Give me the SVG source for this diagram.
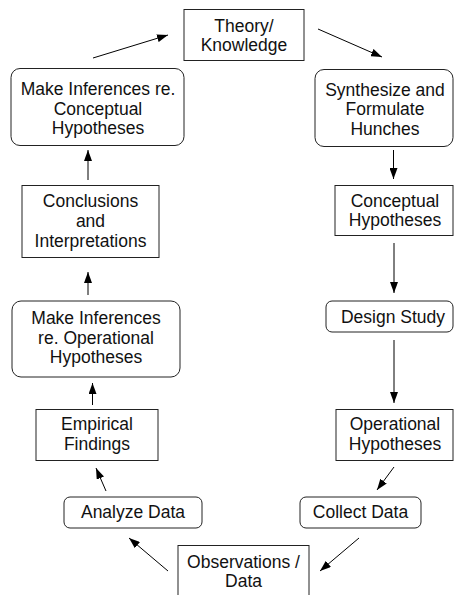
<svg xmlns="http://www.w3.org/2000/svg" width="454" height="595" viewBox="0 0 454 595">
<defs>
<style>
.box{fill:#fff;stroke:#222;stroke-width:1}
.t{font-family:"Liberation Sans",Arial,sans-serif;font-size:17.5px;fill:#111;text-anchor:middle}
.c{stroke:#000;stroke-width:1;fill:none;marker-end:url(#ah)}
</style>
<marker id="ah" markerUnits="userSpaceOnUse" markerWidth="11" markerHeight="8" refX="11" refY="4" orient="auto">
<path d="M0,0 L11,4 L0,8 z" fill="#000"/>
</marker>
</defs>
<rect width="454" height="595" fill="#fff"/>
<g id="connectors">
<line class="c" x1="93" y1="58" x2="168" y2="35"/>
<line class="c" x1="318" y1="29" x2="382" y2="57"/>
<line class="c" x1="88" y1="180" x2="88" y2="150"/>
<line class="c" x1="393.5" y1="150" x2="393.5" y2="179"/>
<line class="c" x1="88" y1="295" x2="88" y2="272"/>
<line class="c" x1="394" y1="243" x2="394" y2="293"/>
<line class="c" x1="394" y1="340" x2="394" y2="403"/>
<line class="c" x1="92.5" y1="405" x2="92.5" y2="383"/>
<line class="c" x1="106" y1="491" x2="96" y2="468"/>
<line class="c" x1="394" y1="467" x2="377" y2="490"/>
<line class="c" x1="168" y1="571" x2="129" y2="538"/>
<line class="c" x1="359" y1="538" x2="320" y2="571"/>
</g>
<g id="theory">
<rect class="box" x="184" y="9.5" width="120" height="51"/>
<text class="t" x="244" y="31.5">Theory/</text>
<text class="t" x="244" y="51">Knowledge</text>
</g>
<g id="inferConceptual">
<rect class="box" x="11" y="68.5" width="173" height="77" rx="9"/>
<text class="t" x="98" y="95">Make Inferences re.</text>
<text class="t" x="98" y="114.5">Conceptual</text>
<text class="t" x="98" y="134">Hypotheses</text>
</g>
<g id="synthesize">
<rect class="box" x="315" y="69.5" width="138" height="77" rx="9"/>
<text class="t" x="385" y="95.5">Synthesize and</text>
<text class="t" x="385" y="115">Formulate</text>
<text class="t" x="385" y="134.5">Hunches</text>
</g>
<g id="conclusions">
<rect class="box" x="22" y="185.5" width="137" height="72"/>
<text class="t" x="90.5" y="207">Conclusions</text>
<text class="t" x="90.5" y="227">and</text>
<text class="t" x="90.5" y="246.5">Interpretations</text>
</g>
<g id="conceptualHypotheses">
<rect class="box" x="335" y="185.5" width="118" height="50"/>
<text class="t" x="395" y="207">Conceptual</text>
<text class="t" x="395" y="226">Hypotheses</text>
</g>
<g id="inferOperational">
<rect class="box" x="12" y="301" width="168" height="76" rx="9"/>
<text class="t" x="96" y="324">Make Inferences</text>
<text class="t" x="96" y="343.5">re. Operational</text>
<text class="t" x="96" y="363">Hypotheses</text>
</g>
<g id="designStudy">
<rect class="box" x="326" y="301" width="127" height="31" rx="6"/>
<text class="t" x="393" y="322.5">Design Study</text>
</g>
<g id="empiricalFindings">
<rect class="box" x="36" y="409.5" width="122" height="51"/>
<text class="t" x="97" y="430">Empirical</text>
<text class="t" x="97" y="450">Findings</text>
</g>
<g id="operationalHypotheses">
<rect class="box" x="336" y="409.5" width="117" height="51"/>
<text class="t" x="395" y="430">Operational</text>
<text class="t" x="395" y="450">Hypotheses</text>
</g>
<g id="analyzeData">
<rect class="box" x="64" y="497" width="138" height="31" rx="6"/>
<text class="t" x="133" y="517.5">Analyze Data</text>
</g>
<g id="collectData">
<rect class="box" x="300" y="497" width="121" height="31" rx="6"/>
<text class="t" x="360.5" y="517.5">Collect Data</text>
</g>
<g id="observations">
<rect class="box" x="178" y="545.5" width="131" height="60"/>
<text class="t" x="243.5" y="568">Observations /</text>
<text class="t" x="243.5" y="587">Data</text>
</g>
</svg>
